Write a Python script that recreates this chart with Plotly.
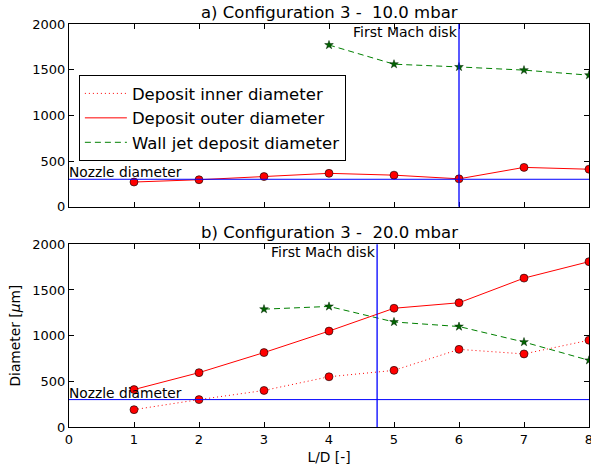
import plotly.graph_objects as go
from plotly.subplots import make_subplots

# ---- data ----
ld = [1, 2, 3, 4, 5, 6, 7, 8]

# a) 10.0 mbar
outer_a = [270, 295, 330, 365, 345, 305, 430, 410]
wall_x_a = [4, 5, 6, 7, 8]
wall_a = [1770, 1560, 1530, 1495, 1440]
mach_a = 6.0

# b) 20.0 mbar
inner_b = [190, 300, 400, 550, 620, 850, 800, 950]
outer_b = [410, 595, 815, 1050, 1300, 1360, 1630, 1810]
wall_x_b = [3, 4, 5, 6, 7, 8]
wall_b = [1290, 1320, 1150, 1100, 930, 730]
mach_b = 4.74

nozzle = 300
titles = ["a) Configuration 3 -  10.0 mbar", "b) Configuration 3 -  20.0 mbar"]
legend_names = ["Deposit inner diameter", "Deposit outer diameter", "Wall jet deposit diameter"]
yticks = [0, 500, 1000, 1500, 2000]
xticks = [0, 1, 2, 3, 4, 5, 6, 7, 8]

FONT = "DejaVu Sans"
RED = "#ff0000"
GREEN = "#008000"
BLUE = "#0000ff"

fig = make_subplots(rows=2, cols=1, shared_xaxes=False, vertical_spacing=0.0)

red_marker = dict(symbol="circle", size=8, color=RED, line=dict(color="black", width=0.6))
star_marker = dict(symbol="star", size=6.5, color="#006400", line=dict(color="#002200", width=0.5))

# panel a
fig.add_trace(go.Scatter(x=ld, y=outer_a, mode="lines+markers", line=dict(color=RED, width=1),
                         marker=red_marker, showlegend=False), row=1, col=1)
fig.add_trace(go.Scatter(x=wall_x_a, y=wall_a, mode="lines+markers",
                         line=dict(color=GREEN, width=1, dash="6px,4px"),
                         marker=star_marker, showlegend=False), row=1, col=1)

# panel b
fig.add_trace(go.Scatter(x=ld, y=inner_b, mode="lines+markers", line=dict(color=RED, width=1, dash="1px,3px"),
                         marker=red_marker, showlegend=False), row=2, col=1)
fig.add_trace(go.Scatter(x=ld, y=outer_b, mode="lines+markers", line=dict(color=RED, width=1),
                         marker=red_marker, showlegend=False), row=2, col=1)
fig.add_trace(go.Scatter(x=wall_x_b, y=wall_b, mode="lines+markers",
                         line=dict(color=GREEN, width=1, dash="6px,4px"),
                         marker=star_marker, showlegend=False), row=2, col=1)

# legend entries (lines only)
fig.add_trace(go.Scatter(x=[None], y=[None], mode="lines", name=legend_names[0],
                         line=dict(color=RED, width=1, dash="1px,3px")), row=1, col=1)
fig.add_trace(go.Scatter(x=[None], y=[None], mode="lines", name=legend_names[1],
                         line=dict(color=RED, width=1)), row=1, col=1)
fig.add_trace(go.Scatter(x=[None], y=[None], mode="lines", name=legend_names[2],
                         line=dict(color=GREEN, width=1, dash="6px,4px")), row=1, col=1)

# reference lines
for r, mach in ((1, mach_a), (2, mach_b)):
    fig.add_hline(y=nozzle, line=dict(color=BLUE, width=1), row=r, col=1)
    fig.add_vline(x=mach, line=dict(color=BLUE, width=1.3), row=r, col=1)

# annotations
for r, (mach, title) in enumerate(((mach_a, titles[0]), (mach_b, titles[1])), start=1):
    xr = "x" if r == 1 else "x2"
    yr = "y" if r == 1 else "y2"
    fig.add_annotation(text=title, xref=xr + " domain", yref=yr + " domain", x=0.5, y=1.0,
                       xanchor="center", yanchor="bottom", showarrow=False, yshift=0,
                       font=dict(family=FONT, size=16.5, color="black"))
    fig.add_annotation(text="First Mach disk", xref=xr, yref=yr + " domain", x=mach, y=1.0,
                       xanchor="right", yanchor="top", showarrow=False, xshift=1, yshift=2,
                       font=dict(family=FONT, size=14, color="black"))
    fig.add_annotation(text="Nozzle diameter", xref=xr, yref=yr, x=0, y=nozzle,
                       xanchor="left", yanchor="bottom", showarrow=False, xshift=-2, yshift=-3,
                       font=dict(family=FONT, size=13.8, color="black"))

axis_common = dict(showgrid=False, zeroline=False, showline=True, linecolor="black", linewidth=1,
                   mirror="ticks", ticks="inside", ticklen=5, tickcolor="black", tickwidth=1,
                   ticklabeloverflow="allow", automargin=False,
                   tickfont=dict(family=FONT, size=13, color="black"))

fig.update_xaxes(range=[0, 8], tickvals=xticks, **axis_common)
fig.update_yaxes(range=[0, 2000], tickvals=yticks, **axis_common)
fig.update_xaxes(showticklabels=False, row=1, col=1)
fig.update_xaxes(title=dict(text="L/D [-]", font=dict(family=FONT, size=13.8, color="black"), standoff=6),
                 row=2, col=1)
fig.update_yaxes(title=dict(text="Diameter [<i>μ</i>m]", font=dict(family=FONT, size=13.8, color="black"),
                            standoff=8), row=2, col=1)

fig.update_layout(
    width=591, height=471,
    margin=dict(l=69, r=2, t=24, b=44, autoexpand=False),
    paper_bgcolor="white", plot_bgcolor="white",
    font=dict(family=FONT, color="black"),
    xaxis=dict(domain=[0, 1]),
    yaxis=dict(domain=[0.5467, 1.0]),
    yaxis2=dict(domain=[0.0, 0.4533]),
    legend=dict(x=0.019, y=0.873, xref="paper", yref="paper", xanchor="left", yanchor="top",
                bgcolor="white", bordercolor="black", borderwidth=1, itemwidth=42,
                font=dict(family=FONT, size=16.5, color="black"), tracegroupgap=0),
)

fig.write_html("out.html")
